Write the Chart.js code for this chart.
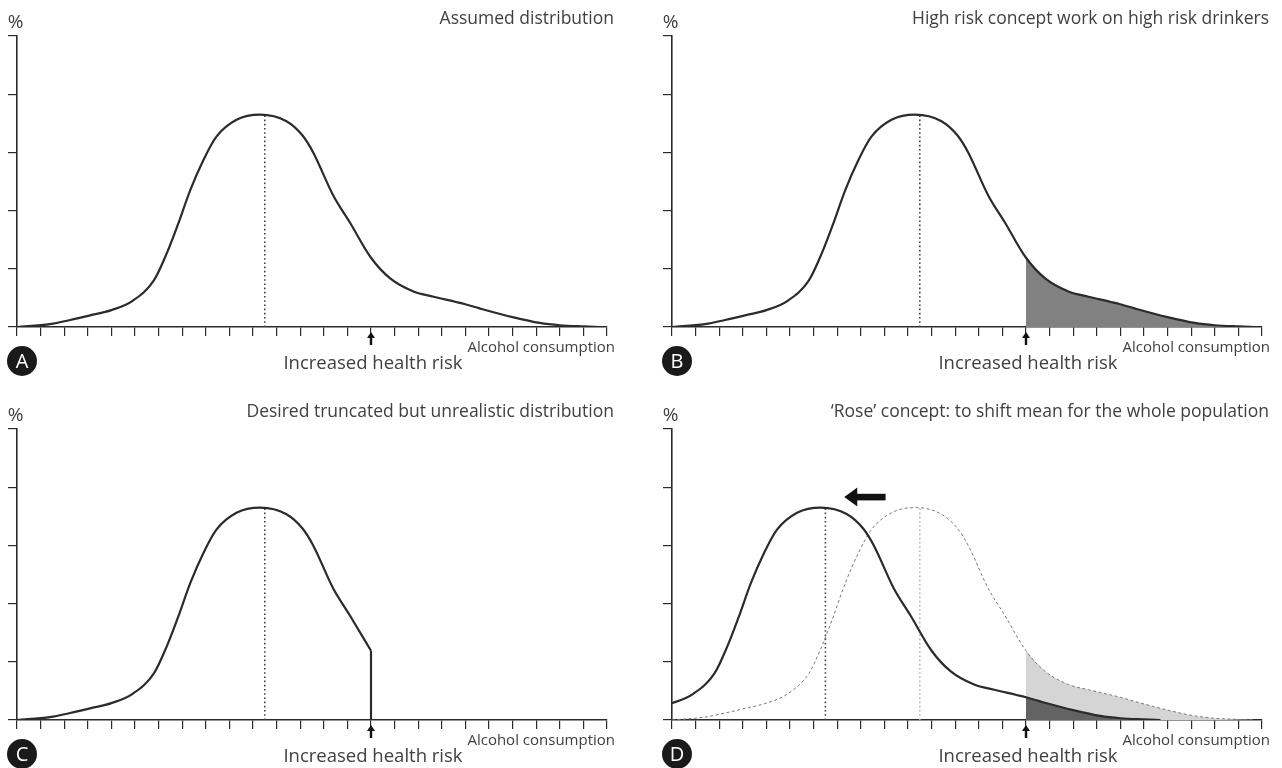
<!DOCTYPE html>
<html>
<head>
<meta charset="utf-8">
<script src="https://cdn.jsdelivr.net/npm/chart.js@4.4.1/dist/chart.umd.min.js"></script>
<style>
    html, body { margin: 0; padding: 0; background: #ffffff; overflow: hidden; }
    canvas { position: absolute; }
</style>
</head>
<body>
<canvas id="chartA" width="641" height="393" style="left:0px;top:0px"></canvas>
<canvas id="chartB" width="641" height="393" style="left:655px;top:0px"></canvas>
<canvas id="chartC" width="641" height="393" style="left:0px;top:393px"></canvas>
<canvas id="chartD" width="641" height="393" style="left:655px;top:393px"></canvas>
<script>
// alcohol consumption (x, in tick units) and share of population (y, in tick units)
const consumption = [0, 1.4, 2.25, 3.1, 4.0, 4.9, 5.8, 6.35, 6.8, 7.35, 7.9, 8.45, 9.3, 10.3, 11.4, 12.1, 12.55, 13.4, 14.1, 15, 15.8, 16.8, 17.65, 18.6, 19, 19.6, 21, 22.15, 23, 24, 24.7]
const share = [0, 0.05, 0.12, 0.2, 0.29, 0.45, 0.8, 1.27, 1.74, 2.36, 2.87, 3.27, 3.56, 3.65, 3.54, 3.29, 3.0, 2.26, 1.8, 1.19, 0.84, 0.61, 0.52, 0.43, 0.39, 0.32, 0.17, 0.07, 0.03, 0.01, 0]
const meanConsumption = 10.5
const peakShare = 3.64
const riskLevel = 15
const meanShift = 4
const arrowFrom = 9.05
const arrowTo = 7.3
const arrowLevel = 3.83
const xTicks = [0, 25]
const yTicks = [0, 5]

const titles = {
    A: "Assumed distribution",
    B: "High risk concept work on high risk drinkers",
    C: "Desired truncated but unrealistic distribution",
    D: "\u2018Rose\u2019 concept: to shift mean for the whole population"
}
const yLabel = "%"
const xLabel = "Alcohol consumption"
const riskLabel = "Increased health risk"

const ink = "#2b2b2b"
const textColor = "#404040"
const font = "'Open Sans', 'Noto Sans', sans-serif"

function points(xs, ys, shift) {
    let list = []
    for(let i in xs) {
        list.push({x: xs[i] - (shift || 0), y: ys[i]})
    }
    return list
}

const basePoints = points(consumption, share)
const shiftedPoints = points(consumption, share, meanShift)

function curve(data, extra) {
    return Object.assign({
        data: data,
        borderColor: ink,
        borderWidth: 2.2,
        pointRadius: 0,
        cubicInterpolationMode: 'monotone',
        fill: false,
        order: 1
    }, extra || {})
}

function meanLine(x, color) {
    return {
        data: [{x: x, y: 0}, {x: x, y: peakShare}],
        borderColor: color,
        borderWidth: 1.6,
        borderDash: [1.6, 2.6],
        pointRadius: 0,
        tension: 0,
        fill: false,
        order: 2
    }
}

function tailFill(data, color) {
    return {
        data: data.filter((p) => p.x >= riskLevel),
        borderWidth: 0,
        borderColor: 'rgba(0,0,0,0)',
        backgroundColor: color,
        pointRadius: 0,
        cubicInterpolationMode: 'monotone',
        fill: 'origin',
        order: 5
    }
}

const decor = {
    id: 'decor',
    afterDraw(chart, args, opts) {
        const ctx = chart.ctx
        const area = chart.chartArea
        const xs = chart.scales.x
        const ys = chart.scales.y
        ctx.save()
        ctx.fillStyle = textColor
        ctx.textBaseline = 'middle'

        ctx.font = "19px " + font
        ctx.textAlign = 'center'
        ctx.fillText(yLabel, area.left - 1.5, area.top - 13)

        ctx.font = "17.5px " + font
        ctx.textAlign = 'right'
        ctx.fillText(opts.title, area.right + 7, area.top - 17)

        ctx.font = "15px " + font
        ctx.fillText(xLabel, area.right + 8, area.bottom + 21)

        let rx = xs.getPixelForValue(riskLevel)
        ctx.font = "18.5px " + font
        ctx.textAlign = 'center'
        ctx.fillText(riskLabel, rx + 2, area.bottom + 37)

        // small arrow under the axis
        ctx.fillStyle = '#111'
        ctx.fillRect(rx - 1.2, area.bottom + 9, 2.4, 9)
        ctx.beginPath()
        ctx.moveTo(rx - 4, area.bottom + 11)
        ctx.lineTo(rx, area.bottom + 5)
        ctx.lineTo(rx + 4, area.bottom + 11)
        ctx.closePath()
        ctx.fill()

        // panel letter
        ctx.fillStyle = '#1a1a1a'
        ctx.beginPath()
        ctx.arc(area.left + 5, area.bottom + 34, 15, 0, Math.PI * 2)
        ctx.fill()
        ctx.fillStyle = '#ffffff'
        ctx.font = "20px " + font
        ctx.textAlign = 'center'
        ctx.fillText(opts.letter, area.left + 5, area.bottom + 35)

        if(opts.shiftArrow) {
            let x0 = xs.getPixelForValue(arrowFrom)
            let x1 = xs.getPixelForValue(arrowTo)
            let y = ys.getPixelForValue(arrowLevel)
            ctx.fillStyle = '#111'
            ctx.fillRect(x1 + 11, y - 3.3, x0 - x1 - 11, 6.6)
            ctx.beginPath()
            ctx.moveTo(x1, y)
            ctx.lineTo(x1 + 13, y - 9.5)
            ctx.lineTo(x1 + 13, y + 9.5)
            ctx.closePath()
            ctx.fill()
        }
        ctx.restore()
    }
}

function makeChart(id, letter, datasets, shiftArrow) {
    return new Chart(id, {
        type: 'line',
        data: {datasets: datasets},
        plugins: [decor],
        options: {
            responsive: false,
            animation: false,
            events: [],
            layout: {padding: {left: 0, top: 36, right: 34, bottom: 0}},
            plugins: {
                legend: {display: false},
                tooltip: {enabled: false},
                decor: {title: titles[letter], letter: letter, shiftArrow: shiftArrow}
            },
            scales: {
                x: {
                    type: 'linear',
                    min: xTicks[0],
                    max: xTicks[1],
                    afterFit: (scale) => { scale.height = 66 },
                    ticks: {display: false, stepSize: 1, maxTicksLimit: 100, autoSkip: false},
                    grid: {drawOnChartArea: false, drawTicks: true, tickLength: 9, color: ink, lineWidth: 1.2},
                    border: {display: true, color: ink, width: 1.6}
                },
                y: {
                    min: yTicks[0],
                    max: yTicks[1],
                    afterFit: (scale) => { scale.width = 17 },
                    ticks: {display: false, stepSize: 1},
                    grid: {drawOnChartArea: false, drawTicks: true, tickLength: 9, color: ink, lineWidth: 1.2},
                    border: {display: true, color: ink, width: 1.6}
                }
            }
        }
    })
}

makeChart("chartA", "A", [
    curve(basePoints),
    meanLine(meanConsumption, '#444')
])

makeChart("chartB", "B", [
    curve(basePoints),
    meanLine(meanConsumption, '#444'),
    tailFill(basePoints, '#818181')
])

makeChart("chartC", "C", [
    curve(basePoints.filter((p) => p.x <= riskLevel)),
    curve([basePoints.find((p) => p.x === riskLevel), {x: riskLevel, y: 0}], {cubicInterpolationMode: 'default', tension: 0}),
    meanLine(meanConsumption, '#444')
])

makeChart("chartD", "D", [
    curve(shiftedPoints),
    curve(basePoints, {borderColor: '#7a7a7a', borderWidth: 1, borderDash: [3, 2.5], order: 3}),
    meanLine(meanConsumption - meanShift, '#444'),
    meanLine(meanConsumption, '#b5b5b5'),
    tailFill(shiftedPoints, '#636363'),
    tailFill(basePoints, '#d5d5d5')
], true)
</script>
</body>
</html>
